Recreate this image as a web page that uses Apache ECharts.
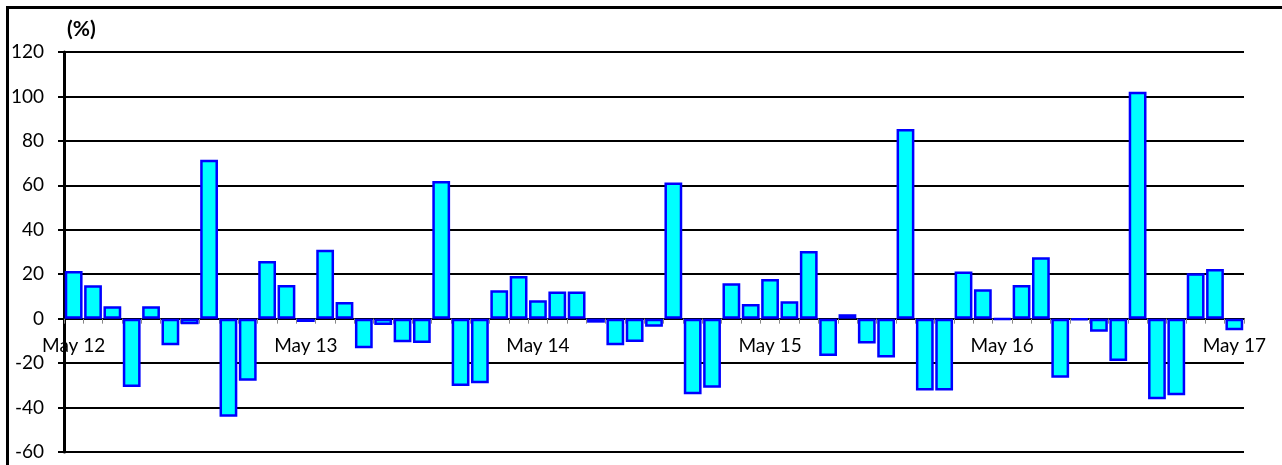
<!DOCTYPE html>
<html>
<head>
<meta charset="utf-8">
<script src="https://cdn.jsdelivr.net/npm/echarts@6/dist/echarts.min.js"></script>
<style>
html,body{margin:0;padding:0;background:#fff;}
#chart{width:1282px;height:465px;}
</style>
</head>
<body>
<div id="chart"></div>
<script>
var categories = [
  'May 12','Jun 12','Jul 12','Aug 12','Sep 12','Oct 12','Nov 12','Dec 12','Jan 13','Feb 13','Mar 13','Apr 13',
  'May 13','Jun 13','Jul 13','Aug 13','Sep 13','Oct 13','Nov 13','Dec 13','Jan 14','Feb 14','Mar 14','Apr 14',
  'May 14','Jun 14','Jul 14','Aug 14','Sep 14','Oct 14','Nov 14','Dec 14','Jan 15','Feb 15','Mar 15','Apr 15',
  'May 15','Jun 15','Jul 15','Aug 15','Sep 15','Oct 15','Nov 15','Dec 15','Jan 16','Feb 16','Mar 16','Apr 16',
  'May 16','Jun 16','Jul 16','Aug 16','Sep 16','Oct 16','Nov 16','Dec 16','Jan 17','Feb 17','Mar 17','Apr 17',
  'May 17'
];
var values = [
  21.5, 15, 5.6, -30.8, 5.6, -12, -2.5, 71.5, -44.1, -27.9, 26, 15.2,
  -1.5, 31, 7.5, -13.3, -2.8, -10.6, -10.9, 61.9, -30.3, -29.1, 12.8, 19.2,
  8.3, 12.2, 12.2, -1.8, -12, -10.5, -3.6, 61.3, -34, -31.1, 15.9, 6.6,
  17.9, 7.8, 30.5, -16.8, 2, -11.2, -17.5, 85.4, -32.3, -32.3, 21.2, 13.2,
  -0.3, 15.1, 27.6, -26.6, -0.5, -5.9, -19, 102.1, -36.3, -34.5, 20.4, 22.4,
  -5.2
];
var yMin = -60, yMax = 120, yStep = 20;
var unitLabel = '(%)';

var gridTop = 52, gridBottom = 13, H = 465;
var plotH = H - gridTop - gridBottom;
var zeroOffset = -plotH * (0 - yMin) / (yMax - yMin);

var chart = echarts.init(document.getElementById('chart'));
var font = 'Lato, "Open Sans", sans-serif';
chart.setOption({
  animation: false,
  backgroundColor: '#ffffff',
  grid: { left: 64, right: 38, top: gridTop, bottom: gridBottom, containLabel: false },
  graphic: [
    { type: 'line', shape: { x1: 7.5, y1: 7.5, x2: 1290, y2: 7.5 }, style: { stroke: '#000', lineWidth: 3 } },
    { type: 'line', shape: { x1: 7.5, y1: 6, x2: 7.5, y2: 470 }, style: { stroke: '#000', lineWidth: 3 } },
    { type: 'text', left: 67, top: 19, style: { text: unitLabel, fontFamily: font, fontWeight: 'bold', fontSize: 21, fill: '#000' } }
  ],
  xAxis: {
    type: 'category',
    data: categories,
    boundaryGap: true,
    position: 'bottom',
    offset: zeroOffset,
    axisLine: { onZero: false, lineStyle: { color: '#000', width: 2 } },
    axisTick: { show: true, interval: 0, length: 5, lineStyle: { color: '#888', width: 1 } },
    axisLabel: { interval: 11, margin: 18, color: '#000', fontFamily: font, fontSize: 19 },
    splitLine: { show: false }
  },
  yAxis: {
    type: 'value',
    min: yMin, max: yMax, interval: yStep,
    axisLine: { show: true, lineStyle: { color: '#000', width: 3 } },
    axisTick: { show: true, length: 6, lineStyle: { color: '#000', width: 2 } },
    axisLabel: { margin: 20, color: '#000', fontFamily: font, fontSize: 19 },
    splitLine: { show: true, lineStyle: { color: '#000', width: 2 } }
  },
  series: [{
    type: 'bar',
    data: values,
    barCategoryGap: '8%',
    itemStyle: { color: '#00FFFF', borderColor: '#0000FF', borderWidth: 2.5 }
  }]
});
</script>
</body>
</html>
